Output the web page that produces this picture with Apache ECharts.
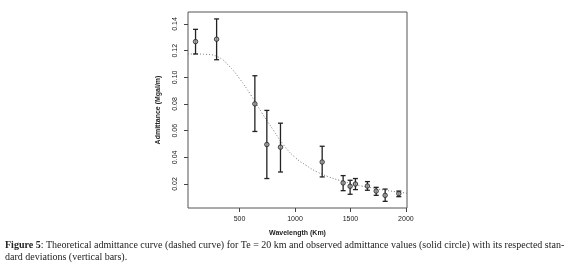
<!DOCTYPE html>
<html>
<head>
<meta charset="utf-8">
<script src="https://cdn.jsdelivr.net/npm/echarts@6/dist/echarts.min.js"></script>
<style>
  html, body { margin: 0; padding: 0; background: #fff; }
  #chart { width: 572px; height: 271px; }
</style>
</head>
<body>
<div id="chart"></div>
<script>
// observed admittance (wavelength km -> Mgal/m) with std deviation bounds
const wavelength = [103, 293, 638, 746, 869, 1245, 1434, 1497, 1545, 1653, 1732, 1813, 1936]
const admittance = [0.1268, 0.1286, 0.0801, 0.0496, 0.0476, 0.0365, 0.0208, 0.0183, 0.0200, 0.0185, 0.0147, 0.0115, 0.0128]
const errLow = [0.1175, 0.1132, 0.0594, 0.0241, 0.0290, 0.0253, 0.0150, 0.0123, 0.0158, 0.0153, 0.0115, 0.0070, 0.0105]
const errHigh = [0.1360, 0.1438, 0.1012, 0.0752, 0.0656, 0.0483, 0.0263, 0.0228, 0.0241, 0.0218, 0.0175, 0.0162, 0.0147]

// theoretical curve, Te = 20 km
const curveX = [35, 100, 200, 300, 400, 500, 600, 700, 800, 900, 1000, 1100, 1200, 1300, 1400, 1500, 1600, 1700, 1800, 1900, 2010]
const curveY = [0.1175, 0.1175, 0.1172, 0.1155, 0.109, 0.099, 0.087, 0.0735, 0.061, 0.049, 0.040, 0.034, 0.029, 0.0255, 0.0228, 0.0205, 0.0185, 0.017, 0.0155, 0.0143, 0.0131]

const xTicks = [500, 1000, 1500, 2000]
const yTicks = [0.02, 0.04, 0.06, 0.08, 0.10, 0.12, 0.14]

const myChart = echarts.init(document.getElementById('chart'))

const points = wavelength.map((w, i) => [w, admittance[i]])
const bars = wavelength.map((w, i) => [w, errLow[i], errHigh[i]])
const curve = curveX.map((x, i) => [x, curveY[i]])

const axisFont = { fontFamily: 'Liberation Sans', fontSize: 7, color: '#222' }

const option = {
  backgroundColor: '#fff',
  animation: false,
  grid: {
    left: 188,
    right: 165,
    top: 12,
    bottom: 63,
    show: true,
    borderColor: '#555',
    borderWidth: 1,
    backgroundColor: 'transparent'
  },
  xAxis: {
    type: 'value',
    min: 35,
    max: 2010,
    name: 'Wavelength (Km)',
    nameLocation: 'middle',
    nameGap: 22,
    nameTextStyle: { fontFamily: 'Liberation Sans', fontSize: 7, fontWeight: 'bold', color: '#222' },
    axisLine: { show: false },
    splitLine: { show: false },
    axisTick: { show: true, length: 4, customValues: xTicks, lineStyle: { color: '#444' } },
    axisLabel: Object.assign({ margin: 8, customValues: xTicks, formatter: v => String(v) }, axisFont)
  },
  yAxis: {
    type: 'value',
    min: 0.002,
    max: 0.149,
    name: 'Admittance (Mgal/m)',
    nameLocation: 'middle',
    nameRotate: 90,
    nameGap: 26,
    nameTextStyle: { fontFamily: 'Liberation Sans', fontSize: 7, fontWeight: 'bold', color: '#222' },
    axisLine: { show: false },
    splitLine: { show: false },
    axisTick: { show: true, length: 4, customValues: yTicks, lineStyle: { color: '#444' } },
    axisLabel: Object.assign({
      margin: 9,
      rotate: 90,
      align: 'center',
      verticalAlign: 'bottom',
      customValues: yTicks,
      formatter: v => v.toFixed(2)
    }, axisFont)
  },
  graphic: [
    {
      type: 'text',
      left: 5,
      top: 239,
      style: {
        text: '{b|Figure 5}: Theoretical admittance curve (dashed curve) for Te = 20 km and observed admittance values (solid circle) with its respected stan-\ndard deviations (vertical bars).',
        fontFamily: 'Liberation Serif',
        fontSize: 10,
        lineHeight: 12,
        fill: '#222',
        rich: {
          b: { fontFamily: 'Liberation Serif', fontSize: 10, fontWeight: 'bold', fill: '#222' }
        }
      }
    }
  ],
  series: [
    {
      name: 'theoretical',
      type: 'line',
      data: curve,
      smooth: true,
      showSymbol: false,
      lineStyle: { color: '#777', width: 1, type: [1, 2] },
      z: 1
    },
    {
      name: 'std',
      type: 'custom',
      data: bars,
      renderItem: function (params, api) {
        const x = api.coord([api.value(0), api.value(1)])[0]
        const lo = api.coord([api.value(0), api.value(1)])[1]
        const hi = api.coord([api.value(0), api.value(2)])[1]
        const cap = 2.5
        const style = { stroke: '#222', lineWidth: 1.3 }
        return {
          type: 'group',
          children: [
            { type: 'line', shape: { x1: x, y1: lo, x2: x, y2: hi }, style: style },
            { type: 'line', shape: { x1: x - cap, y1: lo, x2: x + cap, y2: lo }, style: style },
            { type: 'line', shape: { x1: x - cap, y1: hi, x2: x + cap, y2: hi }, style: style }
          ]
        }
      },
      z: 2
    },
    {
      name: 'observed',
      type: 'scatter',
      data: points,
      symbol: 'circle',
      symbolSize: 4.5,
      itemStyle: { color: '#999', borderColor: '#222', borderWidth: 1 },
      z: 3
    }
  ]
}
myChart.setOption(option)
window.addEventListener('resize', function () {
  myChart.resize()
})
</script>
</body>
</html>
